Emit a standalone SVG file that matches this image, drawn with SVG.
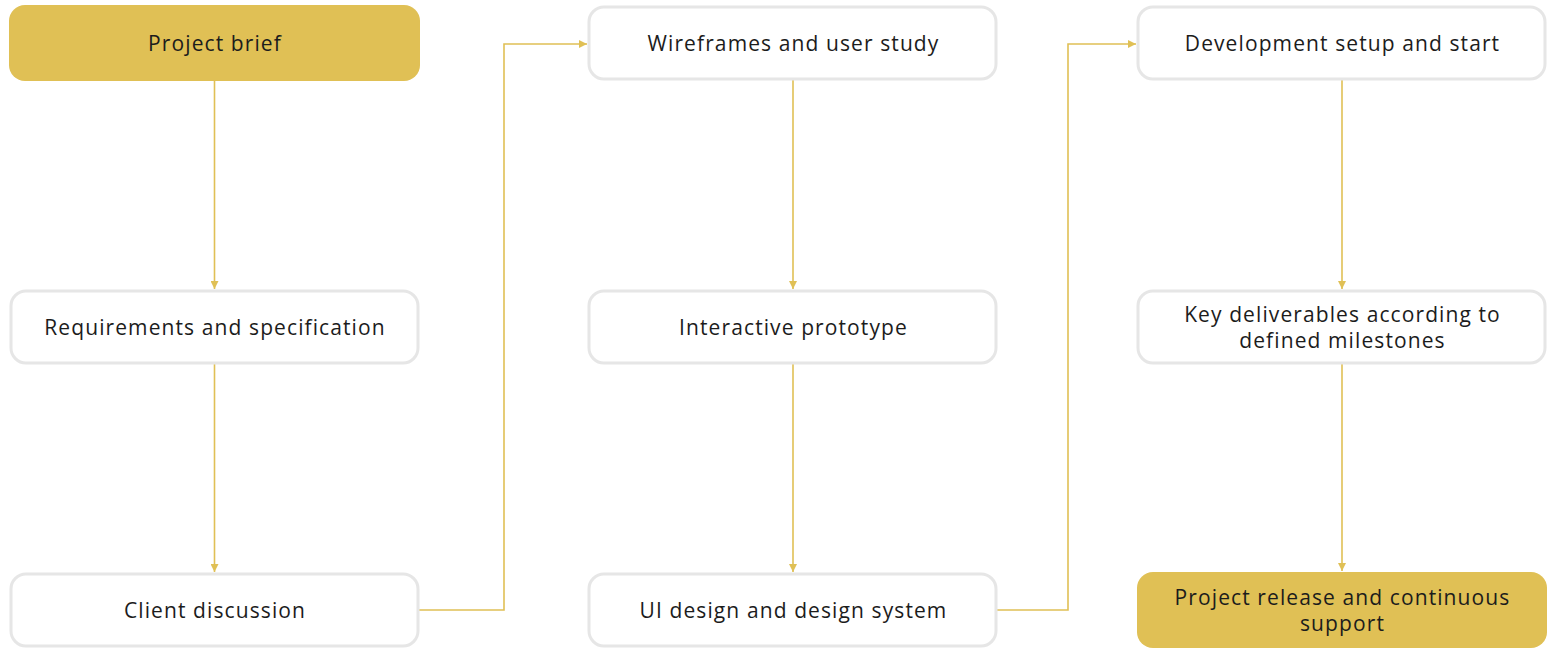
<svg xmlns="http://www.w3.org/2000/svg" width="1547" height="651" viewBox="0 0 1547 651">
<defs>
<style>
.box{fill:#ffffff;stroke:#e6e6e6;stroke-width:3}
.hl{fill:#e0c055;stroke:none}
.lbl{font-family:"Open Sans","Liberation Sans",sans-serif;font-size:21px;letter-spacing:1.1px;fill:#1c1c1c;text-anchor:middle;dominant-baseline:central}
.con{fill:none;stroke:#e0c055;stroke-width:1.6}
</style>
<marker id="ah" viewBox="0 0 10 10" refX="10" refY="5" markerWidth="8" markerHeight="8" markerUnits="userSpaceOnUse" orient="auto">
<path d="M0,0 L10,5 L0,10 z" fill="#e0c055"/>
</marker>
</defs>
<rect width="1547" height="651" fill="#ffffff"/>
<g id="connectors">
<path class="con" d="M214.5,81 V289" marker-end="url(#ah)"/>
<path class="con" d="M214.5,363 V572" marker-end="url(#ah)"/>
<path class="con" d="M419,610 H504 V44 H587" marker-end="url(#ah)"/>
<path class="con" d="M793,80 V289" marker-end="url(#ah)"/>
<path class="con" d="M793,363 V572" marker-end="url(#ah)"/>
<path class="con" d="M997,610 H1068 V44 H1136" marker-end="url(#ah)"/>
<path class="con" d="M1342,80 V289" marker-end="url(#ah)"/>
<path class="con" d="M1342,363 V571" marker-end="url(#ah)"/>
</g>
<g id="n1"><rect class="hl" x="9" y="5" width="411" height="76" rx="16"/><text class="lbl" x="215" y="43">Project brief</text></g>
<g id="n2"><rect class="box" x="11" y="291" width="407" height="72" rx="15"/><text class="lbl" x="215" y="327">Requirements and specification</text></g>
<g id="n3"><rect class="box" x="11" y="574" width="407" height="72" rx="15"/><text class="lbl" x="215" y="610">Client discussion</text></g>
<g id="n4"><rect class="box" x="589" y="7" width="407" height="72" rx="15"/><text class="lbl" x="793.5" y="43">Wireframes and user study</text></g>
<g id="n5"><rect class="box" x="589" y="291" width="407" height="72" rx="15"/><text class="lbl" x="793.5" y="327">Interactive prototype</text></g>
<g id="n6"><rect class="box" x="589" y="574" width="407" height="72" rx="15"/><text class="lbl" x="793.5" y="610">UI design and design system</text></g>
<g id="n7"><rect class="box" x="1138" y="7" width="407" height="72" rx="15"/><text class="lbl" x="1342.5" y="43">Development setup and start</text></g>
<g id="n8"><rect class="box" x="1138" y="291" width="407" height="72" rx="15"/><text class="lbl" x="1342.5" y="314">Key deliverables according to</text><text class="lbl" x="1342.5" y="340">defined milestones</text></g>
<g id="n9"><rect class="hl" x="1137" y="572" width="410" height="76" rx="16"/><text class="lbl" x="1342.5" y="597">Project release and continuous</text><text class="lbl" x="1342.5" y="623">support</text></g>
</svg>
